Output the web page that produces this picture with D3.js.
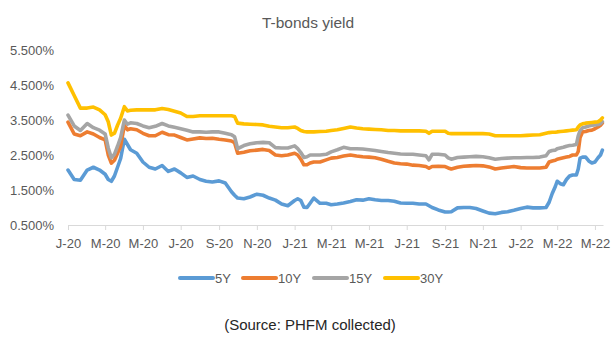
<!DOCTYPE html>
<html><head><meta charset="utf-8">
<script src="https://cdn.jsdelivr.net/npm/d3@7"></script>
<style>body{margin:0;background:#fff}svg{display:block}text{font-family:"Liberation Sans",Arial,sans-serif}</style>
</head><body><svg id="c" width="616" height="340"></svg>
<script>
const title = "T-bonds yield";
const source = "(Source: PHFM collected)";
const seriesNames = ["5Y", "10Y", "15Y", "30Y"];
const colors = ["#5B9BD5", "#ED7D31", "#A5A5A5", "#FFC000"];
const yTicks = [0.5, 1.5, 2.5, 3.5, 4.5, 5.5];
const xTickDates = ["2020-01-01","2020-03-01","2020-05-01","2020-07-01","2020-09-01","2020-11-01","2021-01-01","2021-03-01","2021-05-01","2021-07-01","2021-09-01","2021-11-01","2022-01-01","2022-03-01","2022-05-01"];
const xTickLabels = ["J-20","M-20","M-20","J-20","S-20","N-20","J-21","M-21","M-21","J-21","S-21","N-21","J-22","M-22","M-22"];
const dates = [
"2020-01-01","2020-01-11","2020-01-21","2020-02-01","2020-02-11","2020-02-21","2020-03-01","2020-03-06","2020-03-11","2020-03-16","2020-03-21","2020-03-26",
"2020-04-01","2020-04-06","2020-04-11","2020-04-21","2020-05-01","2020-05-11","2020-05-21","2020-06-01","2020-06-11","2020-06-21",
"2020-07-01","2020-07-11","2020-07-21","2020-08-01","2020-08-11","2020-08-21","2020-09-01","2020-09-11","2020-09-21","2020-09-26",
"2020-10-01","2020-10-11","2020-10-21","2020-11-01","2020-11-11","2020-11-21","2020-12-01","2020-12-11","2020-12-21",
"2021-01-01","2021-01-06","2021-01-11","2021-01-16","2021-01-21","2021-01-26","2021-02-01","2021-02-11","2021-02-21",
"2021-03-01","2021-03-11","2021-03-21","2021-04-01","2021-04-11","2021-04-21","2021-05-01","2021-05-11","2021-05-21",
"2021-06-01","2021-06-11","2021-06-21","2021-07-01","2021-07-11","2021-07-21","2021-08-01","2021-08-06","2021-08-11","2021-08-21",
"2021-09-01","2021-09-06","2021-09-11","2021-09-21","2021-10-01","2021-10-11","2021-10-21","2021-11-01","2021-11-11","2021-11-21",
"2021-12-01","2021-12-11","2021-12-21","2022-01-01","2022-01-11","2022-01-21","2022-02-01","2022-02-11","2022-02-16","2022-02-21","2022-02-26",
"2022-03-01","2022-03-06","2022-03-11","2022-03-16","2022-03-21","2022-03-26","2022-04-01","2022-04-04","2022-04-07","2022-04-11",
"2022-04-16","2022-04-21","2022-04-26","2022-05-01","2022-05-06","2022-05-10","2022-05-13"];
const y5 = [
2.07,1.80,1.78,2.07,2.15,2.07,1.95,1.80,1.75,1.90,2.15,2.40,
2.95,2.80,2.65,2.55,2.30,2.15,2.10,2.20,2.03,2.10,
1.99,1.86,1.90,1.80,1.75,1.73,1.76,1.70,1.45,1.35,
1.27,1.25,1.30,1.38,1.35,1.27,1.21,1.10,1.05,
1.20,1.25,1.20,1.01,1.00,1.12,1.27,1.12,1.12,
1.08,1.10,1.13,1.17,1.22,1.21,1.25,1.22,1.20,
1.20,1.18,1.13,1.12,1.12,1.10,1.10,1.05,1.00,0.93,
0.87,0.87,0.88,0.99,1.00,1.00,0.97,0.90,0.84,0.82,
0.86,0.88,0.92,0.97,1.01,0.99,0.99,1.00,1.15,1.40,1.60,
1.75,1.68,1.65,1.80,1.90,1.93,1.93,2.10,2.41,2.44,
2.44,2.33,2.27,2.30,2.42,2.50,2.64];
const y10 = [
3.44,3.10,3.05,3.16,3.10,3.00,2.93,2.50,2.27,2.35,2.55,2.75,
3.35,3.22,3.25,3.22,3.12,3.05,3.05,3.15,3.08,3.07,
3.00,2.93,2.96,2.99,2.97,2.98,2.95,2.93,2.90,2.85,
2.55,2.58,2.62,2.64,2.66,2.63,2.50,2.48,2.50,
2.55,2.50,2.38,2.22,2.22,2.27,2.30,2.30,2.36,
2.41,2.43,2.47,2.50,2.47,2.45,2.44,2.42,2.38,
2.32,2.27,2.25,2.24,2.21,2.20,2.17,2.12,2.17,2.18,
2.17,2.13,2.10,2.15,2.18,2.19,2.20,2.19,2.16,2.10,
2.13,2.15,2.17,2.14,2.13,2.13,2.13,2.15,2.30,2.33,2.35,
2.38,2.40,2.42,2.44,2.46,2.50,2.50,2.60,3.00,3.16,
3.17,3.20,3.21,3.25,3.30,3.35,3.41];
const y15 = [
3.64,3.33,3.20,3.40,3.28,3.21,3.10,2.70,2.42,2.52,2.75,3.00,
3.50,3.38,3.42,3.40,3.33,3.28,3.32,3.40,3.33,3.29,
3.25,3.21,3.16,3.16,3.15,3.16,3.16,3.12,3.08,3.02,
2.68,2.77,2.82,2.85,2.86,2.85,2.71,2.70,2.70,
2.76,2.68,2.57,2.43,2.45,2.50,2.50,2.50,2.52,
2.59,2.65,2.72,2.68,2.68,2.67,2.65,2.63,2.60,
2.57,2.55,2.53,2.52,2.52,2.50,2.48,2.36,2.52,2.52,
2.50,2.42,2.38,2.43,2.44,2.45,2.46,2.45,2.42,2.38,
2.40,2.41,2.42,2.42,2.43,2.43,2.44,2.48,2.60,2.63,2.64,
2.68,2.70,2.72,2.75,2.77,2.78,2.80,3.05,3.20,3.28,
3.30,3.33,3.35,3.36,3.37,3.40,3.45];
const y30 = [
4.56,4.20,3.84,3.84,3.87,3.79,3.65,3.45,3.07,3.12,3.35,3.55,
3.88,3.76,3.78,3.79,3.79,3.79,3.79,3.83,3.80,3.75,
3.70,3.60,3.60,3.62,3.62,3.62,3.62,3.62,3.62,3.60,
3.41,3.39,3.38,3.37,3.36,3.32,3.30,3.28,3.28,
3.30,3.26,3.20,3.17,3.16,3.16,3.16,3.17,3.18,
3.20,3.22,3.26,3.30,3.27,3.25,3.24,3.23,3.22,
3.20,3.20,3.19,3.19,3.19,3.19,3.18,3.12,3.18,3.18,
3.18,3.12,3.11,3.11,3.11,3.11,3.11,3.11,3.10,3.05,
3.05,3.05,3.05,3.05,3.06,3.07,3.08,3.12,3.14,3.15,3.15,
3.16,3.17,3.18,3.19,3.20,3.21,3.22,3.30,3.36,3.39,
3.41,3.42,3.43,3.44,3.45,3.50,3.56];

const parse = d3.timeParse("%Y-%m-%d");
const svg = d3.select("#c");
const x = d3.scaleTime().domain([parse("2020-01-01"), parse("2022-05-14")]).range([68, 603]);
const y = d3.scaleLinear().domain([0.5, 5.5]).range([225, 50]);

svg.append("text").attr("x", 308).attr("y", 28).attr("text-anchor", "middle")
  .attr("font-size", 15.5).attr("fill", "#595959").text(title);

// y labels
svg.append("g").selectAll("text").data(yTicks).join("text")
  .attr("x", 54).attr("y", d => y(d) + 4.5).attr("text-anchor", "end")
  .attr("font-size", 13).attr("fill", "#595959").text(d => d3.format(".3f")(d) + "%");

// x axis
const xg = svg.append("g").attr("transform", "translate(0,225)");
const xAxis = d3.axisBottom(x).tickValues(xTickDates.map(parse))
  .tickFormat((d, i) => xTickLabels[i]).tickSize(5).tickSizeOuter(0);
xg.call(xAxis);
xg.select(".domain").attr("stroke", "#d9d9d9").attr("stroke-width", 1);
xg.selectAll(".tick line").attr("stroke", "#d9d9d9");
xg.selectAll(".tick text").attr("fill", "#595959").attr("font-size", 13)
  .attr("font-family", "'Liberation Sans', Arial, sans-serif").attr("dy", 0).attr("y", 22.5);

// lines
const all = [y5, y10, y15, y30];
const line = d3.line().x((d, i) => x(parse(dates[i]))).y(d => y(d)).curve(d3.curveLinear);
all.forEach((vals, k) => {
  svg.append("path").datum(vals).attr("d", line).attr("fill", "none")
    .attr("stroke", colors[k]).attr("stroke-width", 3.6)
    .attr("stroke-linejoin", "round").attr("stroke-linecap", "round");
});

// legend
const legX = [180, 243, 314, 385];
seriesNames.forEach((n, k) => {
  svg.append("line").attr("x1", legX[k]).attr("x2", legX[k] + 33).attr("y1", 278).attr("y2", 278)
    .attr("stroke", colors[k]).attr("stroke-width", 4).attr("stroke-linecap", "round");
  svg.append("text").attr("x", legX[k] + 35).attr("y", 282.5).attr("font-size", 13)
    .attr("fill", "#595959").text(n);
});

svg.append("text").attr("x", 310).attr("y", 329.5).attr("text-anchor", "middle")
  .attr("font-size", 15).attr("fill", "#262626").text(source);
</script></body></html>
